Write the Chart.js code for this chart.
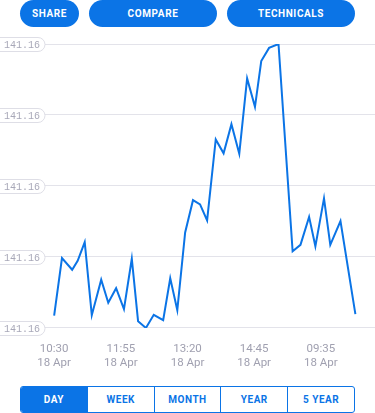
<!DOCTYPE html>
<html>
<head>
<meta charset="utf-8">
<script src="https://cdn.jsdelivr.net/npm/chart.js@4/dist/chart.umd.min.js"></script>
<style>
  body { margin: 0; background: #fff; font-family: Roboto, sans-serif; }
  #page { position: relative; width: 375px; height: 413px; overflow: hidden; }
  .btn {
    position: absolute; top: 0; height: 27px; border-radius: 14px;
    background: #0b74e6; color: #fff; font-size: 10px; font-weight: bold;
    letter-spacing: 0.6px; display: flex; align-items: center; justify-content: center;
  }
  #chartBox { position: absolute; left: 0; top: 30px; width: 375px; height: 354px; }
  #ranges {
    position: absolute; left: 20px; top: 386px; width: 333px; height: 25px;
    border: 1px solid #0b74e6; border-radius: 3px; display: flex; overflow: hidden;
    background: #fff;
  }
  #ranges div {
    flex: 1; display: flex; align-items: center; justify-content: center;
    color: #0b74e6; font-size: 10px; font-weight: bold; letter-spacing: 0.5px;
    border-left: 1px solid #0b74e6;
  }
  #ranges div:first-child { border-left: none; }
  #ranges div.on { background: #0b74e6; color: #fff; }
</style>
</head>
<body>
<div id="page">
  <div class="btn" style="left:20px;width:59px">SHARE</div>
  <div class="btn" style="left:89px;width:128px">COMPARE</div>
  <div class="btn" style="left:227px;width:128px">TECHNICALS</div>
  <div id="chartBox"><canvas id="precioChart"></canvas></div>
  <div id="ranges">
    <div class="on">DAY</div><div>WEEK</div><div>MONTH</div><div>YEAR</div><div>5 YEAR</div>
  </div>
</div>
<script>
// minutos desde las 10:30
const minutos = [0, 10, 23, 30, 39, 48, 60, 69, 79, 89, 99, 107, 117, 127, 139, 148, 157, 167, 177, 186,
  195, 206, 216, 226, 236, 246, 256, 264, 274, 286, 304, 314, 325, 333, 344, 352, 365, 384];
const precios = [141.15635, 141.15797, 141.15764, 141.15789, 141.15842, 141.15636, 141.15736, 141.15671,
  141.15712, 141.15653, 141.15795, 141.15619, 141.15600, 141.15637, 141.15622, 141.15740, 141.15650,
  141.15869, 141.15960, 141.15948, 141.15903, 141.16131, 141.16092, 141.16174, 141.16091, 141.16303,
  141.16223, 141.16352, 141.16389, 141.16400, 141.15816, 141.15834, 141.15913, 141.15830, 141.15965,
  141.15834, 141.15901, 141.15639];
const ticksMinutos = [0, 85, 170, 255, 340];
const ticksHora = ['10:30', '11:55', '13:20', '14:45', '09:35'];
const ticksFecha = ['18 Apr', '18 Apr', '18 Apr', '18 Apr', '18 Apr'];

// etiquetas del eje Y en forma de pastilla
const pastillas = {
  id: 'pastillas',
  afterDraw(chart) {
    const ctx = chart.ctx;
    const y = chart.scales.y;
    ctx.save();
    y.ticks.forEach(t => {
      const py = Math.round(y.getPixelForValue(t.value)) + 0.5;
      ctx.beginPath();
      ctx.roundRect(-10.5, py - 7, 55.5, 14, 7);
      ctx.fillStyle = '#fff';
      ctx.fill();
      ctx.strokeStyle = '#dedee6';
      ctx.lineWidth = 1;
      ctx.stroke();
      ctx.fillStyle = '#a8a8b8';
      ctx.font = '10px "Liberation Mono", monospace';
      ctx.textBaseline = 'middle';
      ctx.textAlign = 'left';
      ctx.fillText(t.value.toFixed(2), 4, py + 0.5);
    });
    ctx.restore();
  }
};

const ctx = document.getElementById('precioChart').getContext('2d');
new Chart(ctx, {
  type: 'line',
  data: {
    datasets: [{
      data: minutos.map((m, i) => ({ x: m, y: precios[i] })),
      borderColor: '#0b74e6',
      borderWidth: 2,
      pointRadius: 0,
      tension: 0,
      fill: false
    }]
  },
  options: {
    responsive: true,
    maintainAspectRatio: false,
    animation: false,
    layout: { padding: { top: 14, bottom: 0, left: 0, right: 0 } },
    plugins: { legend: { display: false }, tooltip: { enabled: false } },
    scales: {
      x: {
        type: 'linear',
        min: -69,
        max: 409,
        afterBuildTicks: axis => { axis.ticks = ticksMinutos.map(v => ({ value: v })); },
        grid: { display: false, drawTicks: false },
        border: { display: false },
        ticks: {
          autoSkip: false,
          maxRotation: 0,
          padding: 14,
          color: '#a0a0b0',
          font: { family: 'Roboto', size: 11.5, lineHeight: 1.22 },
          callback: (v) => {
            const i = ticksMinutos.indexOf(v);
            return i < 0 ? '' : [ticksHora[i], ticksFecha[i]];
          }
        }
      },
      y: {
        min: 141.156,
        max: 141.164,
        ticks: { display: false, stepSize: 0.002 },
        grid: { color: '#e3e3ea', drawTicks: false },
        border: { display: false }
      }
    }
  },
  plugins: [pastillas]
});
</script>
</body>
</html>
